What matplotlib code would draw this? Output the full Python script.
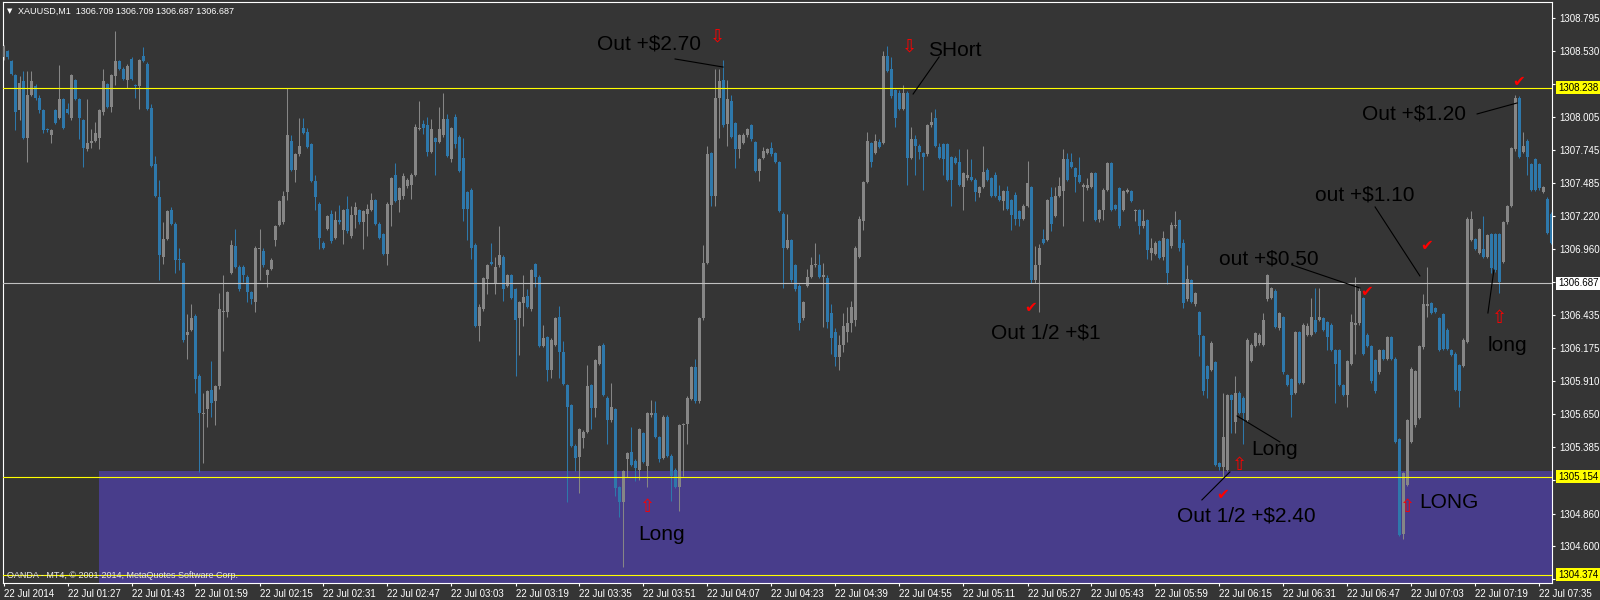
import numpy as np
import matplotlib.pyplot as plt
from matplotlib.patches import Rectangle
from matplotlib.transforms import blended_transform_factory

# XAUUSD M1 candles, 22 Jul 2014, one per minute (index 0 = 01:11)
opens = [
    1308.48, 1308.53, 1308.45, 1308.34, 1308.06, 1308.29, 1307.84, 1308.18, 1308.25, 1308.16,
    1308.06, 1307.91, 1307.86, 1308.06, 1308.00, 1308.15, 1308.07, 1308.00, 1308.30, 1308.15,
    1307.98, 1307.75, 1307.80, 1307.82, 1307.84, 1308.05, 1308.27, 1308.09, 1308.33, 1308.45,
    1308.39, 1308.30, 1308.47, 1308.26, 1308.25, 1308.49, 1308.43, 1308.08, 1307.63, 1307.37,
    1306.90, 1307.04, 1307.27, 1307.16, 1306.88, 1306.85, 1306.28, 1306.32, 1306.43, 1305.95,
    1305.65, 1305.69, 1305.84, 1305.75, 1305.87, 1306.46, 1306.46, 1306.77, 1306.98, 1306.82,
    1306.82, 1306.74, 1306.62, 1306.54, 1306.96, 1306.94, 1306.75, 1306.80, 1307.03, 1307.15,
    1307.17, 1307.41, 1307.82, 1307.59, 1307.71, 1307.92, 1307.89, 1307.79, 1307.50, 1307.32,
    1307.01, 1307.12, 1307.24, 1307.05, 1307.19, 1307.11, 1307.28, 1307.06, 1307.23, 1307.27,
    1307.17, 1307.24, 1307.27, 1307.35, 1307.16, 1307.08, 1306.92, 1307.31, 1307.55, 1307.35,
    1307.38, 1307.46, 1307.47, 1307.55, 1307.91, 1307.95, 1307.94, 1307.73, 1307.84, 1307.81,
    1307.86, 1307.99, 1307.67, 1308.01, 1307.85, 1307.68, 1307.41, 1307.43, 1306.99, 1306.35,
    1306.48, 1306.72, 1306.86, 1306.69, 1306.83, 1306.90, 1306.67, 1306.75, 1306.64, 1306.41,
    1306.53, 1306.59, 1306.48, 1306.84, 1306.74, 1306.19, 1306.26, 1306.00, 1306.20, 1306.42,
    1306.14, 1305.88, 1305.72, 1305.40, 1305.31, 1305.46, 1305.51, 1305.88, 1305.70, 1306.05,
    1306.20, 1305.78, 1305.60, 1305.69, 1305.07, 1304.95, 1305.29, 1305.35, 1305.28, 1305.21,
    1305.50, 1305.24, 1305.64, 1305.66, 1305.47, 1305.30, 1305.63, 1305.32, 1305.21, 1305.07,
    1305.56, 1305.57, 1305.77, 1306.02, 1305.75, 1306.41, 1306.85, 1307.72, 1307.38, 1308.16,
    1308.30, 1307.95, 1308.13, 1307.96, 1307.75, 1307.80, 1307.86, 1307.94, 1307.81, 1307.58,
    1307.68, 1307.72, 1307.76, 1307.72, 1307.65, 1307.24, 1306.97, 1307.03, 1306.83, 1306.67,
    1306.41, 1306.67, 1306.74, 1306.83, 1306.83, 1306.74, 1306.73, 1306.45, 1306.30, 1306.10,
    1306.20, 1306.30, 1306.37, 1306.40, 1306.90, 1307.18, 1307.49, 1307.80, 1307.72, 1307.81,
    1307.80, 1308.49, 1308.39, 1308.22, 1308.20, 1308.07, 1308.20, 1307.68, 1307.83, 1307.78,
    1307.72, 1307.71, 1307.94, 1308.00, 1307.77, 1307.79, 1307.79, 1307.69, 1307.68, 1307.65,
    1307.45, 1307.52, 1307.53, 1307.51, 1307.40, 1307.45, 1307.59, 1307.52, 1307.55, 1307.38,
    1307.34, 1307.42, 1307.35, 1307.39, 1307.26, 1307.20, 1307.30, 1307.45, 1306.71, 1306.83,
    1307.04, 1307.03, 1307.37, 1307.22, 1307.38, 1307.42, 1307.67, 1307.65, 1307.60, 1307.55,
    1307.45, 1307.44, 1307.45, 1307.56, 1307.20, 1307.27, 1307.43, 1307.64, 1307.31, 1307.44,
    1307.27, 1307.41, 1307.42, 1307.26, 1307.27, 1307.14, 1307.19, 1306.93, 1306.92, 1307.02,
    1306.90, 1307.04, 1306.98, 1307.14, 1307.19, 1307.01, 1306.56, 1306.71, 1306.52, 1306.46,
    1306.27, 1306.03, 1306.00, 1306.06, 1305.26, 1305.23, 1305.21, 1305.80, 1305.59, 1305.82,
    1305.78, 1305.60, 1306.07, 1306.19, 1306.21, 1306.20, 1306.56, 1306.57, 1306.63, 1306.33,
    1306.42, 1305.96, 1305.93, 1305.82, 1306.30, 1305.90, 1306.28, 1306.28, 1306.40, 1306.40,
    1306.41, 1306.38, 1306.36, 1306.16, 1306.16, 1305.88, 1305.80, 1306.05, 1306.36, 1306.37,
    1306.57, 1306.28, 1306.19, 1306.08, 1305.98, 1306.16, 1306.09, 1306.26, 1306.09, 1305.45,
    1304.70, 1305.09, 1305.43, 1305.56, 1305.62, 1306.18, 1306.51, 1306.53, 1306.49, 1306.41,
    1306.44, 1306.32, 1306.16, 1306.13, 1306.04, 1306.03, 1306.22, 1307.03, 1307.04, 1306.93,
    1306.96, 1306.90, 1307.08, 1307.08, 1307.08, 1306.86, 1307.17, 1307.30, 1307.75, 1308.16,
    1307.73, 1307.82, 1307.63, 1307.67, 1307.63, 1307.41, 1307.36, 1307.24,
]
highs = [
    1308.58, 1308.54, 1308.46, 1308.35, 1308.33, 1308.37, 1308.37, 1308.37, 1308.27, 1308.18,
    1308.07, 1307.92, 1307.91, 1308.07, 1308.42, 1308.16, 1308.12, 1308.35, 1308.31, 1308.16,
    1307.99, 1308.15, 1307.91, 1307.97, 1308.07, 1308.39, 1308.28, 1308.35, 1308.69, 1308.46,
    1308.40, 1308.43, 1308.48, 1308.27, 1308.47, 1308.56, 1308.44, 1308.11, 1307.70, 1307.51,
    1307.17, 1307.27, 1307.29, 1307.17, 1306.97, 1306.86, 1306.44, 1306.52, 1306.44, 1305.97,
    1305.82, 1305.84, 1306.07, 1305.88, 1306.61, 1306.75, 1306.63, 1307.03, 1307.12, 1306.83,
    1306.83, 1306.75, 1306.63, 1306.98, 1307.12, 1306.97, 1306.80, 1306.89, 1307.15, 1307.35,
    1307.42, 1308.24, 1307.86, 1307.72, 1308.00, 1308.00, 1307.92, 1307.80, 1307.55, 1307.33,
    1307.02, 1307.23, 1307.27, 1307.26, 1307.31, 1307.28, 1307.38, 1307.30, 1307.33, 1307.28,
    1307.27, 1307.32, 1307.40, 1307.36, 1307.17, 1307.09, 1307.33, 1307.53, 1307.64, 1307.45,
    1307.56, 1307.52, 1307.56, 1307.95, 1308.13, 1307.98, 1308.01, 1307.99, 1307.85, 1308.09,
    1308.20, 1308.03, 1307.93, 1308.03, 1307.86, 1307.84, 1307.42, 1307.44, 1307.01, 1306.52,
    1306.74, 1306.84, 1307.01, 1306.90, 1307.14, 1306.91, 1306.76, 1306.76, 1306.65, 1306.55,
    1306.75, 1306.64, 1306.80, 1306.85, 1306.75, 1306.36, 1306.27, 1306.25, 1306.42, 1306.51,
    1306.23, 1305.89, 1305.73, 1305.41, 1305.54, 1305.52, 1306.04, 1305.89, 1306.09, 1306.20,
    1306.21, 1305.79, 1305.90, 1305.70, 1305.08, 1305.21, 1305.35, 1305.55, 1305.29, 1305.54,
    1305.51, 1305.67, 1305.76, 1305.75, 1305.48, 1305.64, 1305.64, 1305.33, 1305.22, 1305.57,
    1305.58, 1305.79, 1306.03, 1306.09, 1306.42, 1306.99, 1307.78, 1307.73, 1308.39, 1308.39,
    1308.46, 1308.30, 1308.18, 1307.97, 1307.87, 1307.88, 1307.92, 1307.95, 1307.82, 1307.68,
    1307.77, 1307.76, 1307.81, 1307.73, 1307.66, 1307.25, 1307.24, 1307.04, 1306.84, 1306.68,
    1306.55, 1306.80, 1306.90, 1307.01, 1306.92, 1306.85, 1306.75, 1306.52, 1306.33, 1306.28,
    1306.45, 1306.50, 1306.55, 1306.98, 1307.22, 1307.50, 1307.89, 1307.81, 1307.87, 1307.83,
    1308.53, 1308.57, 1308.48, 1308.23, 1308.22, 1308.26, 1308.21, 1307.93, 1307.86, 1307.79,
    1307.73, 1307.95, 1308.05, 1308.07, 1307.80, 1307.80, 1307.80, 1307.70, 1307.70, 1307.75,
    1307.57, 1307.75, 1307.67, 1307.52, 1307.46, 1307.78, 1307.60, 1307.53, 1307.57, 1307.47,
    1307.43, 1307.46, 1307.36, 1307.41, 1307.27, 1307.32, 1307.66, 1307.46, 1306.98, 1307.00,
    1307.12, 1307.36, 1307.45, 1307.45, 1307.53, 1307.75, 1307.72, 1307.72, 1307.61, 1307.69,
    1307.48, 1307.52, 1307.57, 1307.57, 1307.28, 1307.44, 1307.65, 1307.65, 1307.32, 1307.45,
    1307.43, 1307.44, 1307.43, 1307.28, 1307.28, 1307.28, 1307.20, 1307.05, 1307.02, 1307.03,
    1307.10, 1307.05, 1307.17, 1307.26, 1307.20, 1307.04, 1306.83, 1306.72, 1306.62, 1306.47,
    1306.28, 1306.04, 1306.23, 1306.07, 1305.27, 1305.82, 1305.81, 1305.81, 1305.95, 1305.83,
    1305.79, 1306.25, 1306.21, 1306.30, 1306.29, 1306.45, 1306.76, 1306.66, 1306.64, 1306.46,
    1306.43, 1305.97, 1305.94, 1306.31, 1306.31, 1306.37, 1306.37, 1306.57, 1306.65, 1306.65,
    1306.42, 1306.39, 1306.37, 1306.17, 1306.17, 1305.89, 1306.08, 1306.44, 1306.74, 1306.66,
    1306.58, 1306.29, 1306.20, 1306.09, 1306.17, 1306.17, 1306.27, 1306.27, 1306.10, 1305.46,
    1305.19, 1305.61, 1306.02, 1306.00, 1306.20, 1306.60, 1306.82, 1306.54, 1306.50, 1306.42,
    1306.45, 1306.33, 1306.17, 1306.14, 1306.05, 1306.25, 1307.21, 1307.26, 1307.05, 1307.13,
    1307.22, 1307.08, 1307.09, 1307.09, 1307.09, 1307.18, 1307.31, 1307.77, 1308.18, 1308.17,
    1307.89, 1307.83, 1307.64, 1307.68, 1307.64, 1307.46, 1307.37, 1307.25,
]
lows = [
    1308.46, 1308.47, 1308.34, 1307.90, 1307.98, 1307.83, 1307.65, 1308.17, 1308.14, 1308.04,
    1307.88, 1307.89, 1307.80, 1307.95, 1307.99, 1307.91, 1308.03, 1307.98, 1308.14, 1307.83,
    1307.61, 1307.74, 1307.76, 1307.81, 1307.75, 1308.02, 1308.08, 1308.05, 1308.26, 1308.38,
    1308.30, 1308.24, 1308.30, 1308.16, 1308.07, 1308.44, 1308.06, 1307.61, 1307.37, 1306.71,
    1306.84, 1307.03, 1307.15, 1306.77, 1306.79, 1306.22, 1306.09, 1306.31, 1305.82, 1305.19,
    1305.26, 1305.55, 1305.63, 1305.56, 1305.85, 1306.15, 1306.42, 1306.76, 1306.81, 1306.63,
    1306.70, 1306.54, 1306.52, 1306.46, 1306.71, 1306.82, 1306.66, 1306.79, 1306.98, 1307.14,
    1307.16, 1307.35, 1307.58, 1307.49, 1307.70, 1307.87, 1307.76, 1307.49, 1307.27, 1306.96,
    1306.96, 1307.11, 1307.01, 1307.04, 1307.16, 1307.00, 1307.09, 1307.05, 1307.13, 1307.16,
    1306.96, 1307.06, 1307.26, 1307.15, 1307.04, 1306.91, 1306.83, 1307.14, 1307.33, 1307.25,
    1307.36, 1307.44, 1307.36, 1307.54, 1307.90, 1307.87, 1307.70, 1307.72, 1307.55, 1307.80,
    1307.85, 1307.69, 1307.65, 1307.76, 1307.57, 1307.18, 1307.03, 1306.88, 1306.34, 1306.23,
    1306.47, 1306.60, 1306.83, 1306.60, 1306.82, 1306.55, 1306.66, 1306.56, 1305.95, 1306.12,
    1306.35, 1306.49, 1306.47, 1306.66, 1306.18, 1306.18, 1305.91, 1305.94, 1306.19, 1305.94,
    1305.88, 1304.95, 1305.39, 1305.20, 1305.02, 1305.38, 1305.50, 1305.53, 1305.63, 1306.04,
    1305.79, 1305.41, 1305.59, 1305.00, 1304.83, 1304.44, 1305.15, 1305.24, 1305.12, 1305.13,
    1305.26, 1305.07, 1305.63, 1305.46, 1305.27, 1305.29, 1305.31, 1304.96, 1305.06, 1304.88,
    1305.16, 1305.41, 1305.76, 1305.74, 1305.74, 1306.40, 1306.84, 1307.30, 1307.30, 1307.84,
    1307.93, 1307.78, 1307.84, 1307.60, 1307.68, 1307.79, 1307.85, 1307.82, 1307.57, 1307.50,
    1307.67, 1307.71, 1307.70, 1307.64, 1307.25, 1306.65, 1306.96, 1306.70, 1306.63, 1306.32,
    1306.40, 1306.66, 1306.73, 1306.82, 1306.73, 1306.34, 1306.33, 1306.13, 1306.03, 1306.00,
    1306.14, 1306.22, 1306.30, 1306.35, 1306.89, 1307.11, 1307.48, 1307.61, 1307.71, 1307.76,
    1307.79, 1308.36, 1308.16, 1307.93, 1308.06, 1308.06, 1307.47, 1307.67, 1307.55, 1307.67,
    1307.43, 1307.70, 1307.93, 1307.77, 1307.67, 1307.55, 1307.50, 1307.30, 1307.63, 1307.46,
    1307.27, 1307.51, 1307.50, 1307.34, 1307.37, 1307.44, 1307.50, 1307.37, 1307.37, 1307.34,
    1307.27, 1307.27, 1307.11, 1307.15, 1307.14, 1307.19, 1307.29, 1306.69, 1306.69, 1306.46,
    1307.00, 1307.02, 1307.10, 1307.21, 1307.37, 1307.14, 1307.50, 1307.60, 1307.41, 1307.48,
    1307.18, 1307.43, 1307.44, 1307.18, 1307.17, 1307.19, 1307.42, 1307.26, 1307.27, 1307.13,
    1307.26, 1307.40, 1307.33, 1307.18, 1307.08, 1307.13, 1306.88, 1306.87, 1306.91, 1306.88,
    1306.87, 1306.68, 1306.97, 1307.13, 1306.94, 1306.49, 1306.55, 1306.53, 1306.51, 1306.11,
    1305.80, 1305.78, 1305.99, 1305.24, 1305.21, 1305.15, 1305.20, 1305.50, 1305.50, 1305.65,
    1305.41, 1305.59, 1306.06, 1306.18, 1306.20, 1306.19, 1306.55, 1306.56, 1306.33, 1306.32,
    1305.97, 1305.87, 1305.63, 1305.81, 1305.89, 1305.89, 1306.27, 1306.27, 1306.29, 1306.39,
    1306.31, 1306.16, 1306.15, 1305.74, 1305.87, 1305.79, 1305.71, 1306.04, 1306.13, 1306.36,
    1306.12, 1306.18, 1305.90, 1305.82, 1305.97, 1306.08, 1306.08, 1306.08, 1305.42, 1304.68,
    1304.66, 1305.08, 1305.42, 1305.55, 1305.61, 1306.17, 1306.42, 1306.44, 1306.45, 1306.15,
    1306.16, 1306.16, 1306.11, 1305.83, 1305.71, 1306.02, 1306.21, 1307.02, 1306.95, 1306.92,
    1306.89, 1306.89, 1306.77, 1306.78, 1306.61, 1306.85, 1307.16, 1307.29, 1307.74, 1307.68,
    1307.72, 1307.55, 1307.42, 1307.42, 1307.43, 1307.40, 1307.08, 1307.00,
]
closes = [
    1308.57, 1308.48, 1308.35, 1308.05, 1308.28, 1307.84, 1308.18, 1308.29, 1308.16, 1308.06,
    1307.90, 1307.90, 1307.90, 1307.96, 1308.15, 1307.92, 1308.04, 1308.34, 1308.15, 1308.00,
    1307.76, 1307.80, 1307.82, 1307.88, 1308.06, 1308.29, 1308.09, 1308.34, 1308.45, 1308.39,
    1308.31, 1308.41, 1308.31, 1308.25, 1308.46, 1308.45, 1308.07, 1307.62, 1307.38, 1306.91,
    1307.04, 1307.26, 1307.16, 1306.87, 1306.87, 1306.24, 1306.30, 1306.41, 1305.93, 1305.66,
    1305.66, 1305.83, 1305.74, 1305.87, 1306.48, 1306.47, 1306.62, 1306.99, 1306.82, 1306.64,
    1306.75, 1306.62, 1306.56, 1306.97, 1306.97, 1306.83, 1306.79, 1306.87, 1307.14, 1307.34,
    1307.38, 1307.86, 1307.59, 1307.71, 1307.78, 1307.88, 1307.77, 1307.50, 1307.37, 1307.05,
    1306.97, 1307.22, 1307.02, 1307.19, 1307.17, 1307.27, 1307.10, 1307.23, 1307.29, 1307.17,
    1307.26, 1307.28, 1307.35, 1307.16, 1307.05, 1306.92, 1307.32, 1307.52, 1307.34, 1307.44,
    1307.54, 1307.51, 1307.55, 1307.93, 1307.92, 1307.92, 1307.73, 1307.91, 1307.81, 1307.91,
    1307.99, 1307.70, 1307.92, 1307.79, 1307.58, 1307.28, 1307.28, 1306.97, 1306.35, 1306.50,
    1306.73, 1306.83, 1306.84, 1306.82, 1306.91, 1306.64, 1306.75, 1306.57, 1306.40, 1306.54,
    1306.58, 1306.50, 1306.79, 1306.74, 1306.19, 1306.25, 1306.00, 1306.24, 1306.41, 1306.14,
    1305.89, 1305.71, 1305.40, 1305.30, 1305.53, 1305.51, 1305.87, 1305.70, 1306.08, 1306.19,
    1305.80, 1305.60, 1305.71, 1305.06, 1304.95, 1305.20, 1305.34, 1305.25, 1305.22, 1305.53,
    1305.27, 1305.66, 1305.66, 1305.47, 1305.29, 1305.63, 1305.32, 1305.16, 1305.07, 1305.56,
    1305.57, 1305.78, 1306.02, 1305.75, 1306.41, 1306.85, 1307.71, 1307.38, 1308.16, 1308.29,
    1307.94, 1308.15, 1307.85, 1307.75, 1307.86, 1307.86, 1307.91, 1307.83, 1307.58, 1307.67,
    1307.74, 1307.75, 1307.71, 1307.65, 1307.26, 1306.97, 1307.03, 1306.71, 1306.64, 1306.37,
    1306.54, 1306.74, 1306.83, 1306.84, 1306.74, 1306.75, 1306.38, 1306.25, 1306.10, 1306.20,
    1306.35, 1306.37, 1306.50, 1306.97, 1307.20, 1307.49, 1307.82, 1307.65, 1307.82, 1307.77,
    1308.49, 1308.37, 1308.17, 1308.00, 1308.07, 1308.20, 1307.68, 1307.83, 1307.78, 1307.73,
    1307.69, 1307.94, 1307.97, 1307.78, 1307.68, 1307.67, 1307.51, 1307.51, 1307.64, 1307.47,
    1307.56, 1307.55, 1307.51, 1307.41, 1307.45, 1307.57, 1307.51, 1307.38, 1307.38, 1307.35,
    1307.42, 1307.28, 1307.23, 1307.20, 1307.20, 1307.30, 1307.48, 1306.71, 1306.83, 1306.97,
    1307.01, 1307.35, 1307.16, 1307.38, 1307.46, 1307.67, 1307.51, 1307.61, 1307.53, 1307.49,
    1307.47, 1307.47, 1307.56, 1307.19, 1307.27, 1307.43, 1307.64, 1307.27, 1307.28, 1307.14,
    1307.42, 1307.43, 1307.34, 1307.27, 1307.14, 1307.18, 1306.95, 1306.97, 1307.01, 1306.89,
    1307.05, 1306.77, 1307.15, 1307.15, 1306.97, 1306.53, 1306.72, 1306.54, 1306.61, 1306.28,
    1305.83, 1305.93, 1306.21, 1305.25, 1305.23, 1305.47, 1305.80, 1305.76, 1305.82, 1305.66,
    1305.66, 1306.24, 1306.20, 1306.29, 1306.28, 1306.40, 1306.75, 1306.65, 1306.34, 1306.45,
    1305.98, 1305.88, 1305.80, 1306.30, 1305.90, 1306.36, 1306.35, 1306.42, 1306.30, 1306.42,
    1306.32, 1306.26, 1306.16, 1306.05, 1305.88, 1305.80, 1306.07, 1306.38, 1306.37, 1306.63,
    1306.13, 1306.19, 1305.91, 1305.83, 1306.16, 1306.09, 1306.26, 1306.09, 1305.43, 1304.69,
    1305.18, 1305.60, 1306.01, 1305.99, 1306.19, 1306.52, 1306.52, 1306.45, 1306.46, 1306.16,
    1306.17, 1306.17, 1306.12, 1305.84, 1305.83, 1306.24, 1307.20, 1307.20, 1306.96, 1307.12,
    1306.90, 1307.07, 1306.81, 1306.79, 1306.70, 1307.17, 1307.30, 1307.76, 1308.16, 1307.69,
    1307.78, 1307.69, 1307.43, 1307.43, 1307.44, 1307.45, 1307.09, 1307.01,
]

time_labels = ["22 Jul 2014", "22 Jul 01:27", "22 Jul 01:43", "22 Jul 01:59", "22 Jul 02:15",
               "22 Jul 02:31", "22 Jul 02:47", "22 Jul 03:03", "22 Jul 03:19", "22 Jul 03:35",
               "22 Jul 03:51", "22 Jul 04:07", "22 Jul 04:23", "22 Jul 04:39", "22 Jul 04:55",
               "22 Jul 05:11", "22 Jul 05:27", "22 Jul 05:43", "22 Jul 05:59", "22 Jul 06:15",
               "22 Jul 06:31", "22 Jul 06:47", "22 Jul 07:03", "22 Jul 07:19", "22 Jul 07:35"]
price_ticks = [1308.795, 1308.530, 1308.270, 1308.005, 1307.745, 1307.485, 1307.220, 1306.960,
               1306.700, 1306.435, 1306.175, 1305.910, 1305.650, 1305.385, 1305.125, 1304.860,
               1304.600, 1304.340]
# tick labels that sit under the level boxes
covered_ticks = [1308.270, 1306.700, 1305.125, 1304.340]

yellow_levels = [1308.238, 1305.154, 1304.374]
bid_level = 1306.687
zone_top = 1305.199
zone_start = 23.9

# notes drawn on the chart: text, candle index, price
notes = [
    (r"Out +\$2.70", 148.4, 1308.586),
    ("SHort", 231.1, 1308.538),
    (r"Out 1/2 +\$1", 246.9, 1306.293),
    (r"out +\$0.50", 303.9, 1306.880),
    (r"out +\$1.10", 327.9, 1307.388),
    (r"Out +\$1.20", 339.6, 1308.031),
    ("long", 371.1, 1306.198),
    ("LONG", 353.9, 1304.945),
    ("Long", 311.9, 1305.373),
    (r"Out 1/2 +\$2.40", 293.4, 1304.842),
    ("Long", 158.6, 1304.691),
]
leaders = [
    ((167.9, 179.9), (1308.467, 1308.403)),
    ((233.9, 227.4), (1308.483, 1308.189)),
    ((322.1, 339.1), (1306.833, 1306.650)),
    ((342.9, 354.1), (1307.293, 1306.746)),
    ((368.4, 378.4), (1308.031, 1308.118)),
    ((371.1, 372.6), (1306.452, 1306.793)),
    ((308.4, 319.1), (1305.635, 1305.429)),
    ((299.6, 306.6), (1304.969, 1305.191)),
]
down_arrows = [(178.4, 1308.649), (226.6, 1308.562)]
up_arrows = [(374.1, 1306.412), (350.9, 1304.913), (308.9, 1305.246), (160.9, 1304.913)]
checks = [(256.9, 1306.492), (340.9, 1306.619), (355.9, 1306.984), (378.9, 1308.285),
          (304.9, 1305.016)]

bg = "#353535"
bull = "#868686"
bear = "#2e78ab"

o = np.array(opens)
h = np.array(highs)
l = np.array(lows)
c = np.array(closes)
x = np.arange(len(c))
cols = np.where(c >= o, bull, bear)

fig = plt.figure(figsize=(16, 6), dpi=100, facecolor=bg)
ax = fig.add_axes([3 / 1600, 17 / 600, 1549 / 1600, 581 / 600])
ax.set_facecolor(bg)
ax.set_xlim(-0.125, 387.125)
ax.set_ylim(1304.310, 1308.919)

ax.add_patch(Rectangle((zone_start, 1304.0), 500, zone_top - 1304.0,
                       facecolor="#483d8b", edgecolor="none", zorder=1))

ax.vlines(x, l, h, colors=cols, lw=0.75, zorder=2)
ax.bar(x, np.maximum(np.abs(c - o), 0.008), bottom=np.minimum(o, c), width=0.75,
       color=cols, linewidth=0, zorder=3)

for lv in yellow_levels:
    ax.axhline(lv, color="#ffff00", lw=0.8, zorder=4)
ax.axhline(bid_level, color="#c0c0c0", lw=0.8, zorder=4)

for s in ax.spines.values():
    s.set_color("white")
    s.set_linewidth(0.8)

font = "Liberation Sans"
ax.set_xticks(np.arange(0, 385, 16))
ax.set_xticklabels(time_labels, fontsize=7, family=font)
for t in ax.get_xticklabels():
    t.set_ha("left")
ax.tick_params(axis="x", colors="white", length=2.5, width=0.8, pad=1.5)

ax.yaxis.tick_right()
ax.set_yticks(price_ticks)
ax.set_yticklabels(["" if v in covered_ticks else f"{v:.3f}" for v in price_ticks],
                   fontsize=7, family=font)
ax.tick_params(axis="y", colors="white", length=2.5, width=0.8, pad=3)

blend = blended_transform_factory(ax.transAxes, ax.transData)
for lv, box in [(1308.238, "#ffff00"), (bid_level, "white"), (1305.154, "#ffff00"),
                (1304.374, "#ffff00")]:
    ax.annotate(f"{lv:.3f}", xy=(1, lv), xycoords=blend, xytext=(4.2, 0),
                textcoords="offset points", ha="left", va="center", fontsize=7,
                family=font, color="black", annotation_clip=False, zorder=6,
                bbox=dict(boxstyle="square,pad=0.15", fc=box, ec="none"))

for txt, xi, yp in notes:
    ax.text(xi, yp, txt, fontsize=15, family=font, color="black", ha="left",
            va="center", zorder=6)
for xs, ys in leaders:
    ax.plot(xs, ys, color="black", lw=0.8, zorder=6)
for xi, yp in down_arrows:
    ax.text(xi, yp, "\u21e9", fontsize=13, color="red", ha="center", va="center", zorder=6)
for xi, yp in up_arrows:
    ax.text(xi, yp, "\u21e7", fontsize=13, color="red", ha="center", va="center", zorder=6)
for xi, yp in checks:
    ax.text(xi, yp, "\u2714", fontsize=11, color="red", ha="center", va="center", zorder=6)

fig.text(9.5 / 1600, 1 - 11 / 600, "\u25bc", fontsize=5, color="white", ha="center", va="center")
fig.text(18 / 1600, 1 - 11 / 600, "XAUUSD,M1  1306.709 1306.709 1306.687 1306.687",
         fontsize=6.5, family=font, color="white", va="center")
fig.text(7 / 1600, 1 - 575 / 600, "OANDA - MT4, \u00a9 2001-2014, MetaQuotes Software Corp.",
         fontsize=6.5, family=font, color="#e6e6e6", va="center")

fig.savefig("out.png", dpi=100, facecolor=bg)
